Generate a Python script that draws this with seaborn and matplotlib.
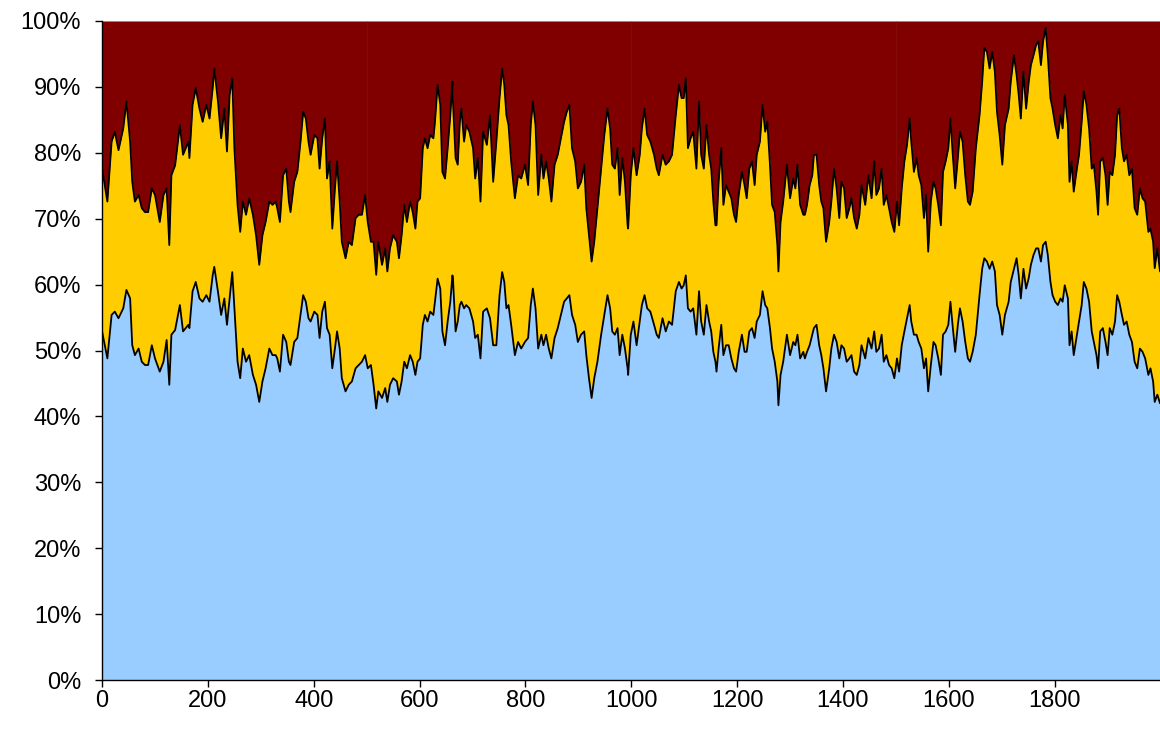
import numpy as np
import pandas as pd
import matplotlib
matplotlib.use("Agg")
import matplotlib.pyplot as plt
import seaborn as sns
from matplotlib.ticker import FuncFormatter

# sample positions (step index)
steps = [0, 10, 18, 24, 31, 40, 46, 53, 57, 62, 69, 75, 81, 87, 94, 100, 109, 116, 122, 127,
         131, 138, 147, 153, 163,
         165, 171, 177, 184, 190, 197, 203, 209, 212, 219, 225, 231, 236, 241, 246, 250, 256,
         261, 266, 272, 278, 285, 291, 297, 303, 309, 316, 322, 328,
         331, 336, 342, 348, 353, 356, 363, 369, 375, 380, 385, 390, 394, 401, 407, 411, 416,
         421, 425, 430, 435, 440, 444, 449, 453, 460, 466, 472, 479, 485, 491,
         497, 502, 508, 513, 518, 522, 529, 535, 539, 544, 550, 557, 561, 566, 571, 576, 582,
         587, 592, 596, 601, 606, 610, 615, 620, 626, 629, 634, 639, 643, 648, 653, 658, 662,
         663, 668, 672, 676, 679, 684, 688, 694, 701, 705, 710, 715, 720, 727, 733, 739, 745,
         751, 756, 760, 764, 768, 773, 780, 786, 792, 799, 805, 810, 814, 819, 824,
         830, 834, 839, 844, 849, 855, 861, 867, 873, 878, 883, 888, 894, 899, 905, 911, 915,
         920, 925, 930, 936, 943, 949, 955, 960, 964, 969, 974, 978, 983, 988, 993,
         994, 999, 1004, 1010, 1016, 1020, 1025, 1030, 1036, 1043, 1048, 1052, 1059, 1065, 1071,
         1077, 1084, 1090, 1095, 1099, 1103, 1107, 1112, 1117, 1123, 1128, 1132, 1137, 1142,
         1147, 1151, 1155, 1159,
         1161, 1165, 1170, 1174, 1179, 1184, 1189, 1194, 1198, 1203, 1209, 1214, 1218, 1223,
         1228, 1233, 1237, 1243, 1248, 1253, 1257, 1262, 1266, 1271, 1276, 1278, 1282, 1287,
         1294, 1300, 1306, 1310, 1314, 1319, 1325,
         1328, 1332, 1337, 1342, 1345, 1350, 1355, 1359, 1363, 1368, 1374, 1378, 1383, 1388,
         1393, 1397, 1402, 1407, 1412, 1416, 1421, 1426, 1431, 1435, 1442, 1448, 1454, 1459,
         1463, 1468, 1473, 1477, 1482, 1487,
         1492, 1497, 1502, 1506, 1511, 1516, 1521, 1526, 1529, 1534, 1539, 1543, 1548, 1553,
         1557, 1561, 1566, 1571, 1575, 1580, 1585, 1589, 1594, 1599, 1603, 1607, 1612, 1617,
         1621, 1626, 1631, 1636, 1640, 1645, 1651,
         1658, 1663, 1667, 1672, 1677, 1682, 1687, 1691, 1696, 1701, 1706, 1713, 1717, 1723,
         1728, 1732, 1736, 1741, 1746, 1751, 1755, 1760, 1765, 1769, 1774, 1778, 1783, 1787,
         1792, 1796, 1801, 1806, 1811, 1815, 1819,
         1825, 1828, 1832, 1836, 1842, 1846, 1851, 1855, 1860, 1865, 1870, 1874, 1879, 1882,
         1886, 1891, 1896, 1900, 1904, 1909, 1914, 1918, 1922, 1927, 1931, 1936, 1941, 1946,
         1951, 1956, 1961, 1966, 1971, 1977, 1981, 1986, 1989, 1994, 1999]

# top of the blue band (%)
blue_top = [52.9, 48.8, 55.4, 55.9, 54.9, 56.4, 59.2, 57.9, 50.8, 49.3, 50.3, 48.3, 47.8, 47.8,
            50.8, 48.8, 46.8, 48.3, 51.6, 44.8, 52.4, 53.1, 56.9, 52.9, 53.9,
            53.4, 59.0, 60.4, 57.9, 57.4, 58.4, 57.4, 61.4, 62.7, 58.9, 55.4, 57.9, 53.9, 57.9,
            61.9, 56.4, 48.3, 45.8, 50.3, 48.3, 49.3, 46.3, 44.8, 42.2, 45.3, 47.3, 50.3, 49.3,
            49.3,
            48.8, 46.8, 52.4, 51.3, 48.3, 47.8, 51.3, 51.9, 55.4, 58.4, 57.4, 54.9, 54.4, 55.9,
            55.4, 51.9, 55.9, 57.4, 53.4, 52.4, 47.3, 50.3, 52.9, 50.3, 45.8, 43.8, 44.8, 45.3,
            47.3, 47.8, 48.3,
            49.3, 47.3, 47.8, 44.8, 41.2, 43.8, 42.8, 44.3, 42.2, 44.8, 45.8, 45.3, 43.3, 45.3,
            48.3, 47.3, 49.3, 48.3, 46.3, 48.3, 48.8, 53.9, 55.4, 54.4, 55.9, 55.4, 57.4, 60.9,
            59.4, 52.9, 50.8, 54.4, 57.4, 61.4,
            60.9, 52.9, 54.4, 56.9, 57.4, 56.4, 56.9, 56.4, 54.4, 51.9, 52.4, 48.8, 55.9, 56.4,
            54.9, 50.8, 50.8, 58.4, 61.9, 60.4, 56.4, 56.9, 53.9, 49.3, 51.3, 50.3, 51.3, 51.9,
            56.9, 59.4, 56.4, 50.3,
            52.4, 50.8, 52.4, 50.3, 48.8, 51.9, 53.4, 55.4, 57.4, 57.9, 58.4, 55.4, 53.9, 51.3,
            52.4, 52.9, 49.3, 45.8, 42.8, 45.8, 48.3, 52.4, 55.4, 58.4, 56.4, 52.9, 52.4, 53.4,
            49.3, 52.4, 50.3, 47.3,
            46.3, 52.4, 54.4, 50.8, 54.4, 56.9, 58.4, 56.4, 55.9, 53.9, 52.4, 51.9, 54.9, 52.9,
            54.4, 53.9, 59.0, 60.4, 59.4, 59.9, 61.4, 56.4, 55.9, 56.4, 52.4, 59.0, 54.4, 52.4,
            56.9, 54.4, 52.9, 49.8, 48.3,
            46.8, 50.3, 53.9, 49.3, 50.8, 50.8, 48.8, 47.3, 46.8, 49.8, 52.4, 49.8, 49.8, 52.9,
            53.4, 51.9, 54.4, 55.4, 59.0, 56.9, 56.4, 53.4, 50.3, 48.3, 45.3, 41.7, 46.3, 48.3,
            52.4, 49.3, 51.3, 50.8, 52.4, 48.8, 49.8,
            48.8, 49.8, 50.8, 52.4, 53.4, 53.9, 50.8, 49.3, 47.3, 43.8, 47.3, 50.3, 52.4, 51.3,
            48.8, 50.8, 50.3, 48.3, 48.8, 49.3, 46.8, 46.3, 47.8, 50.8, 48.8, 51.9, 50.3, 52.9,
            49.8, 50.3, 52.4, 48.3, 49.3, 47.8,
            47.3, 45.8, 48.8, 46.8, 50.8, 52.9, 54.9, 56.9, 54.4, 52.4, 52.4, 51.3, 50.3, 47.3,
            48.8, 43.8, 47.8, 51.3, 50.8, 48.8, 46.3, 52.4, 52.9, 53.9, 57.4, 53.9, 49.8, 53.9,
            56.4, 54.4, 51.3, 48.8, 48.3, 49.8, 52.4,
            58.4, 62.4, 64.0, 63.5, 62.4, 63.5, 62.0, 56.9, 55.4, 52.4, 55.4, 57.4, 60.4, 62.4,
            64.0, 61.4, 57.9, 62.4, 59.4, 61.0, 63.0, 64.5, 65.5, 65.5, 63.5, 66.0, 66.5, 64.5,
            60.4, 58.4, 57.4, 56.9, 57.9, 57.4, 59.9,
            57.9, 50.8, 52.9, 49.3, 52.4, 54.4, 56.9, 60.4, 59.4, 57.4, 52.9, 51.3, 49.3, 47.3,
            52.9, 53.4, 51.3, 49.3, 53.4, 52.4, 54.4, 58.4, 57.4, 55.4, 53.9, 54.4, 52.4, 51.3,
            48.3, 47.3, 50.3, 49.8, 48.8, 46.3, 47.3, 45.3, 42.2, 43.3, 42.0]

# top of the yellow band, cumulative (%)
yellow_top = [77.6, 72.6, 81.7, 83.2, 80.4, 83.7, 87.8, 81.7, 75.6, 72.6, 73.6, 71.6, 71.0, 71.0,
              74.6, 73.6, 69.5, 73.6, 74.6, 66.0, 76.6, 78.1, 84.2, 79.7, 81.7,
              79.2, 87.3, 89.8, 86.7, 84.7, 87.3, 85.2, 89.8, 92.8, 87.8, 82.2, 86.7, 80.2, 88.8,
              91.3, 80.7, 72.1, 68.0, 72.6, 70.6, 73.1, 70.6, 67.5, 63.0, 67.5, 69.5, 72.6, 72.1,
              72.6,
              71.6, 69.5, 76.6, 77.6, 72.6, 71.0, 75.6, 77.1, 81.7, 86.2, 85.2, 81.7, 79.7, 82.7,
              82.2, 77.6, 82.2, 85.2, 76.1, 78.7, 68.5, 74.6, 78.7, 72.6, 66.5, 64.0, 66.5, 66.0,
              70.1, 70.6, 70.6,
              73.6, 69.5, 66.5, 66.5, 61.5, 66.5, 63.0, 65.5, 62.0, 65.5, 67.5, 66.5, 64.0, 67.5,
              72.1, 69.5, 72.6, 71.0, 68.5, 72.6, 73.1, 80.7, 82.2, 80.7, 82.7, 82.2, 84.7, 90.3,
              87.3, 77.1, 76.1, 80.7, 85.7, 90.8,
              87.8, 79.2, 78.2, 84.7, 86.7, 81.7, 84.2, 83.2, 80.7, 76.1, 79.2, 72.6, 83.2, 81.2,
              85.7, 75.6, 81.7, 88.3, 92.8, 90.3, 85.7, 84.2, 78.7, 73.1, 76.6, 76.1, 78.2, 75.1,
              84.2, 87.8, 84.2, 73.6,
              79.7, 76.1, 78.7, 76.1, 72.6, 78.2, 79.7, 82.2, 84.7, 86.2, 87.3, 80.7, 78.7, 74.6,
              75.6, 78.2, 71.6, 67.5, 63.5, 66.5, 71.6, 77.6, 82.7, 86.7, 83.7, 78.2, 77.6, 80.7,
              73.6, 79.2, 75.6, 69.0,
              68.5, 76.6, 80.7, 76.6, 79.7, 83.7, 86.7, 82.7, 81.7, 79.7, 77.6, 76.6, 79.7, 78.2,
              78.7, 79.7, 85.7, 90.3, 88.3, 88.3, 91.3, 80.7, 82.2, 83.2, 77.6, 87.8, 79.7, 77.6,
              84.2, 79.7, 77.6, 72.6, 69.0,
              69.0, 75.6, 80.7, 72.1, 75.1, 74.1, 73.1, 70.6, 69.5, 73.6, 77.1, 75.1, 73.1, 77.6,
              78.7, 75.1, 79.7, 81.7, 87.3, 83.2, 84.7, 78.2, 72.1, 71.0, 66.0, 62.0, 69.5, 72.6,
              78.2, 73.1, 76.1, 74.6, 78.2, 72.1, 70.6,
              70.6, 72.1, 75.1, 76.6, 79.7, 79.7, 75.1, 72.6, 71.6, 66.5, 69.5, 72.6, 77.6, 74.6,
              70.1, 75.6, 74.6, 70.1, 71.6, 73.1, 70.1, 68.5, 70.6, 75.1, 72.1, 76.6, 73.1, 78.7,
              73.6, 74.6, 77.6, 72.1, 73.6, 71.6,
              69.5, 68.0, 72.6, 69.0, 74.6, 78.7, 81.2, 85.2, 81.7, 77.1, 79.2, 76.6, 75.1, 70.1,
              73.6, 65.0, 72.6, 75.6, 74.6, 72.1, 69.0, 77.1, 78.7, 80.7, 85.2, 80.2, 74.6, 79.2,
              83.2, 81.7, 76.6, 72.6, 72.1, 74.1, 80.7,
              85.7, 90.8, 95.9, 95.3, 92.8, 95.3, 92.3, 86.2, 82.7, 78.2, 84.2, 86.7, 90.8, 94.8,
              91.8, 88.8, 85.2, 92.3, 86.7, 90.8, 93.3, 94.8, 96.4, 96.9, 93.3, 96.9, 98.9, 94.8,
              88.3, 86.7, 84.2, 82.2, 85.7, 83.7, 88.8,
              84.2, 75.6, 78.7, 74.1, 77.6, 79.7, 84.7, 89.3, 87.3, 83.7, 77.6, 78.2, 74.1, 70.6,
              78.7, 79.2, 76.6, 72.1, 77.1, 76.6, 79.7, 85.7, 86.7, 80.7, 78.7, 79.7, 76.6, 77.6,
              71.6, 70.6, 74.6, 73.1, 72.6, 68.0, 68.5, 66.5, 62.5, 65.5, 62.0]

df = pd.DataFrame({"step": steps, "blue": blue_top, "yellow": yellow_top})

sns.set_style("white")
plt.rcParams["font.family"] = ["Liberation Sans", "DejaVu Sans"]

fig = plt.figure(figsize=(11.6, 7.36), dpi=100)
ax = fig.add_axes([0.088, 0.076, 0.912, 0.8955])

ax.fill_between(df["step"], 0, df["blue"], color="#99CCFF", lw=0)
ax.fill_between(df["step"], df["blue"], df["yellow"], color="#FFCC00", lw=0)
ax.fill_between(df["step"], df["yellow"], 100, color="#800000", lw=0)

# faint segment seams visible in the red band of the original
for s in [500, 1000, 1500]:
    top_here = np.interp(s, df["step"], df["yellow"])
    ax.plot([s, s], [top_here, 100], color="#8e2020", lw=0.5, alpha=0.5)

sns.lineplot(data=df, x="step", y="blue", color="black", lw=1.3, ax=ax)
sns.lineplot(data=df, x="step", y="yellow", color="black", lw=1.3, ax=ax)

ax.set_xlim(0, 1999)
ax.set_ylim(0, 100)
ax.set_xticks(range(0, 2000, 200))
ax.set_yticks(range(0, 101, 10))
ax.yaxis.set_major_formatter(FuncFormatter(lambda v, p: f"{int(v)}%"))
ax.set_xlabel("")
ax.set_ylabel("")

sns.despine(ax=ax, top=True, right=True)
for sp in ["left", "bottom"]:
    ax.spines[sp].set_color("black")
    ax.spines[sp].set_linewidth(1.0)
ax.tick_params(axis="both", which="major", direction="out", length=5, width=1,
               color="black", labelsize=17, labelcolor="black", left=True, bottom=True)
ax.tick_params(axis="y", pad=10)
ax.tick_params(axis="x", pad=2)

plt.savefig("out.png", dpi=100)
